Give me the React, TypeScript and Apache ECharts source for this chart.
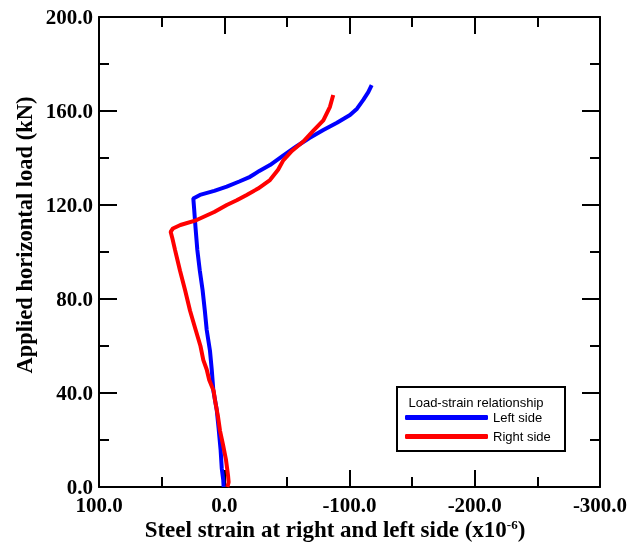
import React, { useEffect, useRef } from 'react';
import * as echarts from 'echarts';

// Left side (blue)
const leftLoad = [0, 3, 8, 15.7, 25, 32.8, 41, 50, 58, 66.8, 75, 83.8, 92, 100.9, 110.8, 118, 122.8, 124.3, 126, 127.8, 130, 132, 134.5, 137, 141, 145, 148.5, 151.9, 155, 158.3, 161, 164.7, 168, 171];
const leftStrain = [0.5, 0.8, 2, 2.9, 4.5, 6, 8.7, 10, 11.4, 14, 15.5, 17.3, 19.5, 21.5, 23, 24, 24.7, 19.4, 8, -2, -12, -20.6, -28, -36.5, -47, -57.8, -68, -79.1, -90, -100.4, -106, -111, -115, -117.7];

// Right side (red)
const rightLoad = [0, 2, 5, 11.5, 18, 24, 30, 37, 41, 45.5, 50, 54, 60, 66.8, 75, 83.8, 92, 100.9, 106, 108.6, 110, 111.5, 113.6, 117, 120, 122, 124.3, 127, 130.6, 135, 139, 143, 147, 151.5, 156, 161.8, 166.8];
const rightStrain = [-2.5, -3.5, -3, -1.4, 1, 3.4, 5, 7.4, 8.5, 12, 14, 16.7, 19, 22.8, 27.3, 31.3, 35.3, 39.3, 41.5, 42.8, 41, 35, 22, 8, -2, -10, -17.9, -27, -36.5, -43, -47.1, -54, -63.1, -71, -79.1, -84.4, -87];

const xTicks = { min: -300, max: 100, interval: 100 };
const yTicks = { min: 0, max: 200, interval: 40 };

const serif = 'Liberation Serif';
const sans = 'Liberation Sans';

export default function App() {
  const ref = useRef<HTMLDivElement>(null);
  useEffect(() => {
    if (!ref.current) return;
    const chart = echarts.init(ref.current, undefined, { renderer: 'svg' });
    const tickStyle = { color: '#000', width: 2 };
    const baseX = {
      type: 'value' as const,
      min: xTicks.min,
      max: xTicks.max,
      interval: xTicks.interval,
      inverse: true,
      splitLine: { show: false },
      axisLine: { show: true, onZero: false, lineStyle: { color: '#000', width: 2 } },
      axisTick: { show: true, inside: true, length: 17, lineStyle: tickStyle },
      minorTick: { show: true, splitNumber: 2, length: 10, lineStyle: tickStyle },
    };
    const baseY = {
      type: 'value' as const,
      min: yTicks.min,
      max: yTicks.max,
      interval: yTicks.interval,
      splitLine: { show: false },
      axisLine: { show: true, onZero: false, lineStyle: { color: '#000', width: 2 } },
      axisTick: { show: true, inside: true, length: 18, lineStyle: tickStyle },
      minorTick: { show: true, splitNumber: 2, length: 10, lineStyle: tickStyle },
    };
    const labelStyle = {
      color: '#000',
      fontFamily: serif,
      fontWeight: 'bold' as const,
      fontSize: 21,
      lineHeight: 15,
    };
    const titleStyle = {
      color: '#000',
      fontFamily: serif,
      fontWeight: 'bold' as const,
    };
    chart.setOption({
      animation: false,
      grid: { left: 99, top: 17, width: 501, height: 470, outerBoundsMode: 'none', containLabel: false },
      xAxis: [
        {
          ...baseX,
          position: 'bottom',
          axisLabel: { ...labelStyle, margin: 10, formatter: (v: number) => v.toFixed(1) },
          name: 'Steel strain at right and left side (x10{sup|-6})',
          nameLocation: 'middle',
          nameGap: 31,
          nameMoveOverlap: false,
          nameTextStyle: {
            ...titleStyle,
            fontSize: 23,
            lineHeight: 22,
            padding: [0, 29, 0, 0],
            rich: {
              sup: { fontFamily: serif, fontWeight: 'bold', fontSize: 13, color: '#000', verticalAlign: 'top', lineHeight: 22, padding: [0, 0, 9, 0] },
            },
          },
        },
        { ...baseX, position: 'top', axisLabel: { show: false } },
      ],
      yAxis: [
        {
          ...baseY,
          position: 'left',
          axisLabel: { ...labelStyle, margin: 6, formatter: (v: number) => v.toFixed(1) },
          name: 'Applied horizontal load (kN)',
          nameLocation: 'middle',
          nameGap: 63,
          nameMoveOverlap: false,
          nameTextStyle: { ...titleStyle, fontSize: 22.5, padding: [0, 0, 0, 34] },
        },
        { ...baseY, position: 'right', axisLabel: { show: false } },
      ],
      legend: {
        data: ['Left side', 'Right side'],
        orient: 'vertical',
        left: 405,
        top: 411,
        padding: 0,
        itemWidth: 83,
        itemHeight: 5,
        itemGap: 6,
        icon: 'roundRect',
        textStyle: { fontFamily: sans, fontSize: 13, color: '#000' },
      },
      graphic: [
        {
          type: 'rect',
          z: 0,
          shape: { x: 397, y: 387, width: 168, height: 64 },
          style: { fill: '#fff', stroke: '#000', lineWidth: 2 },
        },
        {
          type: 'text',
          z: 1,
          x: 476,
          y: 402,
          style: {
            text: 'Load-strain relationship',
            fontFamily: sans,
            fontSize: 13,
            fill: '#000',
            textAlign: 'center',
            textVerticalAlign: 'middle',
          },
        },
      ],
      series: [
        {
          name: 'Left side',
          type: 'line',
          color: '#0000ff',
          showSymbol: false,
          lineStyle: { width: 4, color: '#0000ff' },
          data: leftLoad.map((y, i) => [leftStrain[i], y]),
        },
        {
          name: 'Right side',
          type: 'line',
          color: '#ff0000',
          showSymbol: false,
          lineStyle: { width: 4, color: '#ff0000' },
          data: rightLoad.map((y, i) => [rightStrain[i], y]),
        },
      ],
    });
    return () => chart.dispose();
  }, []);
  return <div ref={ref} style={{ position: 'fixed', left: 0, top: 0, width: 628, height: 544 }} />;
}
